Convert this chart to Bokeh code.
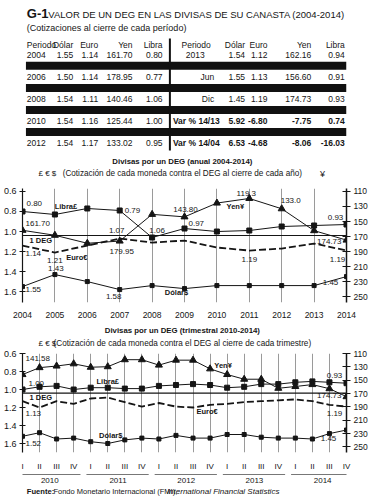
from bokeh.plotting import figure
from bokeh.layouts import column
from bokeh.models import Range1d, LinearAxis, FixedTicker, Span
from bokeh.core.properties import value
from bokeh.embed import file_html
from bokeh.resources import INLINE

# ------------------------------------------------------------------ data
table_header = ["Periodo", "Dólar", "Euro", "Yen", "Libra"]
tl_periodo = ["2004", "2006", "2008", "2010", "2012"]
tl_dolar = ["1.55", "1.50", "1.54", "1.54", "1.54"]
tl_euro = ["1.14", "1.14", "1.11", "1.16", "1.17"]
tl_yen = ["161.70", "178.95", "140.46", "125.44", "133.02"]
tl_libra = ["0.80", "0.77", "1.06", "1.00", "0.95"]
tr_periodo = ["2013", "Jun", "Dic", "Var % 14/13", "Var % 14/04"]
tr_dolar = ["1.54", "1.55", "1.45", "5.92", "6.53"]
tr_euro = ["1.12", "1.13", "1.19", "-6.80", "-4.68"]
tr_yen = ["162.16", "156.60", "174.73", "-7.75", "-8.06"]
tr_libra = ["0.94", "0.91", "0.93", "0.74", "-16.03"]

anios = [2004, 2005, 2006, 2007, 2008, 2009, 2010, 2011, 2012, 2013, 2014]
libra_anual = [0.80, 0.83, 0.77, 0.79, 1.06, 0.97, 1.00, 0.99, 0.95, 0.94, 0.93]
euro_anual = [1.14, 1.21, 1.14, 1.07, 1.11, 1.09, 1.16, 1.19, 1.17, 1.12, 1.19]
dolar_anual = [1.55, 1.43, 1.50, 1.58, 1.54, 1.57, 1.54, 1.54, 1.54, 1.54, 1.45]
yen_anual = [161.70, 168.3, 178.95, 176.0, 140.46, 143.80, 125.44, 119.30, 133.02, 162.16, 174.73]

trimestres = ["I", "II", "III", "IV"]
anios_trim = ["2010", "2011", "2012", "2013", "2014"]
libra_trim = [1.00, 0.97, 0.96, 1.00, 0.98, 0.98, 0.99, 0.99, 0.96, 0.95,
              0.94, 0.95, 0.98, 0.97, 0.94, 0.94, 0.92, 0.91, 0.92, 0.93]
euro_trim = [1.13, 1.20, 1.13, 1.16, 1.10, 1.09, 1.14, 1.19, 1.15, 1.19,
             1.20, 1.17, 1.16, 1.14, 1.13, 1.12, 1.11, 1.13, 1.17, 1.19]
dolar_trim = [1.52, 1.48, 1.55, 1.54, 1.58, 1.60, 1.56, 1.54, 1.55, 1.51,
              1.54, 1.54, 1.50, 1.50, 1.53, 1.54, 1.54, 1.55, 1.49, 1.45]
yen_trim = [141.58, 131.2, 128.8, 125.44, 130.6, 129.8, 119.3, 119.3, 127.4, 120.0,
            120.0, 133.02, 141.5, 148.6, 148.6, 162.16, 159.5, 156.60, 162.8, 174.73]

left_ticks = [0.6, 0.8, 1.0, 1.2, 1.4, 1.6]
left_tick_labels = ["0.6", "0.8", "1.0", "1.2", "1.4", "1.6"]
yen_ticks = [110, 130, 150, 170, 190, 210, 230, 250]
linea_deg = 1.04

# ------------------------------------------------------------------ style
W = 377
FONT = "Liberation Sans"
INK = "#151515"
GRID = "#9a9a9a"
TS = "8.5px"     # table text
LS = "8px"       # value labels in charts
BS = "7.5px"     # bold series labels
CT = "7.8px"     # chart titles
CS = "8.2px"     # chart subtitles


def canvas(h, x_range=None, left=0, right=0):
    p = figure(width=W, height=h,
               x_range=x_range if x_range is not None else Range1d(0, W),
               y_range=Range1d(h, 0), x_axis_type=None, y_axis_type=None,
               min_border_left=left, min_border_right=right,
               min_border_top=0, min_border_bottom=0,
               output_backend="svg", toolbar_location=None)
    p.outline_line_color = None
    p.background_fill_color = "white"
    p.border_fill_color = "white"
    return p


def txt(p, x, y, t, size=LS, align="left", bold=False, italic=False,
        dx=0, dy=0, yr="default", color=INK):
    style = "bold" if bold else ("italic" if italic else "normal")
    p.text(x=[x], y=[y], text=[t], x_offset=dx, y_offset=dy,
           text_align=align, text_baseline="middle",
           text_font=value(FONT), text_font_size=size,
           text_font_style=style, text_color=color, y_range_name=yr)


# ------------------------------------------------------------------ header + table
pa = canvas(183)
txt(pa, 5, 13, "G-1", size="13px", bold=True)
txt(pa, 30, 13.5, "VALOR DE UN DEG EN LAS DIVISAS DE SU CANASTA (2004-2014)", size="9.5px")
txt(pa, 5, 27.5, "(Cotizaciones al cierre de cada período)", size="9px")

row_y = [54 + 22.1 * i for i in range(5)]
band_y = [r + 11.3 for r in row_y[:4]]
pa.rect(x=[190.5] * 4, y=band_y, width=373, height=8, fill_color="#111",
        line_color=None)
pa.segment(x0=[171.5], y0=[38], x1=[171.5], y1=[150], line_color="#111", line_width=2)

left_cols = [tl_dolar, tl_euro, tl_yen, tl_libra]
left_x = [59, 88, 128, 163]
right_cols = [tr_dolar, tr_euro, tr_yen, tr_libra]
right_x = [259, 285, 336, 375]
hy = 44
txt(pa, 5, hy, table_header[0], size=TS)
txt(pa, 185, hy, table_header[0], size=TS)
for name, xl, xr in zip(table_header[1:], left_x, right_x):
    txt(pa, xl, hy, name, size=TS, align="right")
    txt(pa, xr, hy, name, size=TS, align="right")
for i, y in enumerate(row_y):
    txt(pa, 5, y, tl_periodo[i], size=TS)
    for col, x in zip(left_cols, left_x):
        txt(pa, x, y, col[i], size=TS, align="right")
    bold = i >= 3
    if i == 0:
        txt(pa, 190, y, tr_periodo[i], size=TS)
    elif i < 3:
        txt(pa, 223, y, tr_periodo[i], size=TS, align="right")
    else:
        txt(pa, 175, y, tr_periodo[i], size=TS, bold=True)
    for col, x in zip(right_cols, right_x):
        txt(pa, x, y, col[i], size=TS, align="right", bold=bold)

txt(pa, 186, 160.7, "Divisas por un DEG (anual 2004-2014)", size=CT,
    align="center", bold=True)
txt(pa, 186, 173.3, "(Cotización de cada moneda contra el DEG al cierre de cada año)",
    size=CS, align="center")
txt(pa, 29, 173, "£ € $", size="8px", align="center")
txt(pa, 349, 173, "¥", size="9px", align="center")


# ------------------------------------------------------------------ chart helper
def chart(h, x_range, y0, y1, yen0, yen1, top, bottom, xticks, xlabels):
    p = figure(width=W, height=h, x_range=x_range, y_range=Range1d(y0, y1),
               min_border_left=22, min_border_right=31,
               min_border_top=top, min_border_bottom=bottom,
               output_backend="svg", toolbar_location=None)
    p.extra_y_ranges = {"yen": Range1d(yen0, yen1)}
    p.outline_line_color = None
    p.background_fill_color = "white"
    p.border_fill_color = "white"
    p.ygrid.visible = False
    xt = FixedTicker(ticks=xticks)
    p.xaxis.ticker = xt
    p.xgrid.ticker = xt
    p.xgrid.grid_line_color = GRID
    p.xgrid.grid_line_width = 1
    xa = p.xaxis[0]
    xa.major_label_overrides = dict(zip(xticks, xlabels))
    xa.axis_line_color = None
    xa.major_tick_line_color = None
    xa.minor_tick_line_color = None
    xa.major_label_standoff = 3
    xa.major_label_text_font = FONT
    xa.major_label_text_font_size = "8.5px"
    xa.major_label_text_color = INK

    ya = p.yaxis[0]
    ya.ticker = FixedTicker(ticks=left_ticks)
    ya.major_label_overrides = dict(zip(left_ticks, left_tick_labels))
    ya.axis_line_color = INK
    ya.axis_line_width = 1.2
    ya.major_tick_in = 3
    ya.major_tick_out = 3
    ya.major_tick_line_color = INK
    ya.minor_tick_line_color = None
    ya.major_label_standoff = 3
    ya.major_label_text_font = FONT
    ya.major_label_text_font_size = "9px"
    ya.major_label_text_color = INK

    ra = LinearAxis(y_range_name="yen", ticker=FixedTicker(ticks=yen_ticks))
    ra.major_label_overrides = {t: str(t) for t in yen_ticks}
    ra.axis_line_color = INK
    ra.axis_line_width = 1.5
    ra.major_tick_in = 4
    ra.major_tick_out = 4
    ra.major_tick_line_color = INK
    ra.minor_tick_line_color = None
    ra.major_label_standoff = 3
    ra.major_label_text_font = FONT
    ra.major_label_text_font_size = "8.5px"
    ra.major_label_text_color = INK
    p.add_layout(ra, "right")

    p.add_layout(Span(location=linea_deg, dimension="width", line_color=INK,
                      line_width=1.2))
    return p


def series(p, x, libra, euro, dolar, yen):
    p.line(x, libra, line_color=INK, line_width=1)
    p.scatter(x, libra, marker="square", size=5, color=INK)
    p.line(x, euro, line_color=INK, line_width=1.8, line_dash="7 3")
    p.line(x, dolar, line_color=INK, line_width=1)
    p.scatter(x, dolar, marker="square", size=4, color=INK)
    p.line(x, yen, line_color=INK, line_width=1, y_range_name="yen")
    p.scatter(x, yen, marker="triangle", size=7, color=INK, y_range_name="yen")


# ------------------------------------------------------------------ chart 1 (anual)
# frame: 0.6 (left) / 110 (right) sit 3 px below the frame top
pb = chart(137, Range1d(anios[0], anios[-1]), 1.709, 0.6 - 3 / 101, 257.8, 110 - 3 / 0.758,
           5, 17, anios, [str(a) for a in anios])
series(pb, anios, libra_anual, euro_anual, dolar_anual, yen_anual)
A = anios
txt(pb, A[0], libra_anual[0], "0.80", dx=4, dy=-8)
txt(pb, A[0], yen_anual[0], "161.70", dx=3, dy=-7, yr="yen")
txt(pb, A[1], libra_anual[1], "Libra£", size=BS, bold=True, align="center", dx=11, dy=-8)
txt(pb, A[3], libra_anual[3], "0.79", dx=5, dy=0)
txt(pb, A[3], euro_anual[3], "1.07", align="center", dx=-3, dy=-8)
txt(pb, A[3], yen_anual[3], "179.95", align="center", dx=2, dy=10, yr="yen")
txt(pb, A[4], libra_anual[4], "1.06", align="center", dx=5, dy=-7)
txt(pb, A[5], yen_anual[5], "143.80", align="center", dx=1, dy=-7, yr="yen")
txt(pb, A[5], libra_anual[5], "0.97", dx=4, dy=-5)
txt(pb, A[7], yen_anual[7], "119.3", align="center", dx=-3, dy=-5, yr="yen")
txt(pb, A[7], yen_anual[7], "Yen¥", size=BS, bold=True, align="center", dx=-14, dy=8, yr="yen")
txt(pb, A[8], yen_anual[8], "133.0", align="center", dx=9, dy=-8, yr="yen")
txt(pb, A[10], libra_anual[10], "0.93", align="center", dx=-11, dy=-7)
txt(pb, A[0], linea_deg, "1 DEG", size=BS, bold=True, dx=7, dy=5)
txt(pb, A[0], euro_anual[0], "1.14", dx=3, dy=8)
txt(pb, A[1], euro_anual[1], "1.21", align="center", dx=0, dy=8)
txt(pb, A[1], euro_anual[1], "Euro€", size=BS, bold=True, align="center", dx=22, dy=5)
txt(pb, A[0], dolar_anual[0], "1.55", dx=3, dy=3)
txt(pb, A[1], dolar_anual[1], "1.43", align="center", dx=1, dy=-6)
txt(pb, A[3], dolar_anual[3], "1.58", align="center", dx=-6, dy=7)
txt(pb, A[5], dolar_anual[5], "Dólar$", size=BS, bold=True, align="center", dx=-8, dy=4)
txt(pb, A[10], yen_anual[10], "174.73", align="right", dx=-5, dy=1, yr="yen")
txt(pb, A[7], euro_anual[7], "1.19", align="center", dx=0, dy=9)
txt(pb, A[10], euro_anual[10], "1.19", align="center", dx=-9, dy=9)
txt(pb, A[10], dolar_anual[10], "1.45", align="center", dx=-16, dy=6)

# ------------------------------------------------------------------ chart 2 titles
pc = canvas(28)
txt(pc, 186, 10, "Divisas por un DEG (trimestral 2010-2014)", size=CT,
    align="center", bold=True)
txt(pc, 186, 22.5, "(Cotización de cada moneda contra el DEG al cierre de cada trimestre)",
    size=CS, align="center")
txt(pc, 29, 22.5, "£ € $", size="8px", align="center")

# ------------------------------------------------------------------ chart 2 (trimestral)
q = list(range(len(libra_trim)))
qlabels = [trimestres[i % 4] for i in q]
xr2 = Range1d(0, len(q) - 1)
pd_ = chart(125, xr2, 1.70, 0.6, 258.5, 110, 5, 15, q, qlabels)
pd_.xaxis[0].major_label_text_font_size = "8px"
series(pd_, q, libra_trim, euro_trim, dolar_trim, yen_trim)
txt(pd_, q[0], yen_trim[0], "141.58", dx=3, dy=-16, yr="yen")
txt(pd_, q[0], libra_trim[0], "1.00", dx=6, dy=-6)
txt(pd_, q[5], libra_trim[5], "Libra£", size=BS, bold=True, align="center", dx=0, dy=-6)
txt(pd_, q[11], yen_trim[11], "Yen¥", size=BS, bold=True, align="center", dx=13, dy=-3, yr="yen")
txt(pd_, q[19], libra_trim[19], "0.93", align="center", dx=-12, dy=-8)
txt(pd_, q[19], yen_trim[19], "174.73", align="right", dx=-5, dy=-1, yr="yen")
txt(pd_, q[0], linea_deg, "1 DEG", size=BS, bold=True, dx=7, dy=4)
txt(pd_, q[0], euro_trim[0], "1.13", dx=3, dy=12)
txt(pd_, q[11], euro_trim[11], "Euro€", size=BS, bold=True, align="center", dx=-3, dy=7)
txt(pd_, q[19], euro_trim[19], "1.19", align="center", dx=-12, dy=7)
txt(pd_, q[5], dolar_trim[5], "Dólar$", size=BS, bold=True, align="center", dx=3, dy=-8)
txt(pd_, q[0], dolar_trim[0], "1.52", dx=3, dy=7)
txt(pd_, q[19], dolar_trim[19], "1.45", align="center", dx=-18, dy=8)

# ------------------------------------------------------------------ year groups
pe = canvas(12, x_range=xr2, left=22, right=31)
for i, yr in enumerate(anios_trim):
    pe.segment(x0=[4 * i - 0.25], y0=[1], x1=[4 * i + 3.4], y1=[1],
               line_color="#777", line_width=1)
    txt(pe, 4 * i + 1.6, 6.8, yr, size="8px", align="center")

# ------------------------------------------------------------------ source
pf = canvas(15)
txt(pf, 5, 6, "Fuente:", size="7.6px", bold=True)
txt(pf, 36, 6, "Fondo Monetario Internacional (FMI),", size="7.5px")
txt(pf, 168, 6, "International Financial Statistics", size="8px", italic=True)

layout = column(pa, pb, pc, pd_, pe, pf, spacing=0)
open("out.html", "w").write(file_html(layout, INLINE))
